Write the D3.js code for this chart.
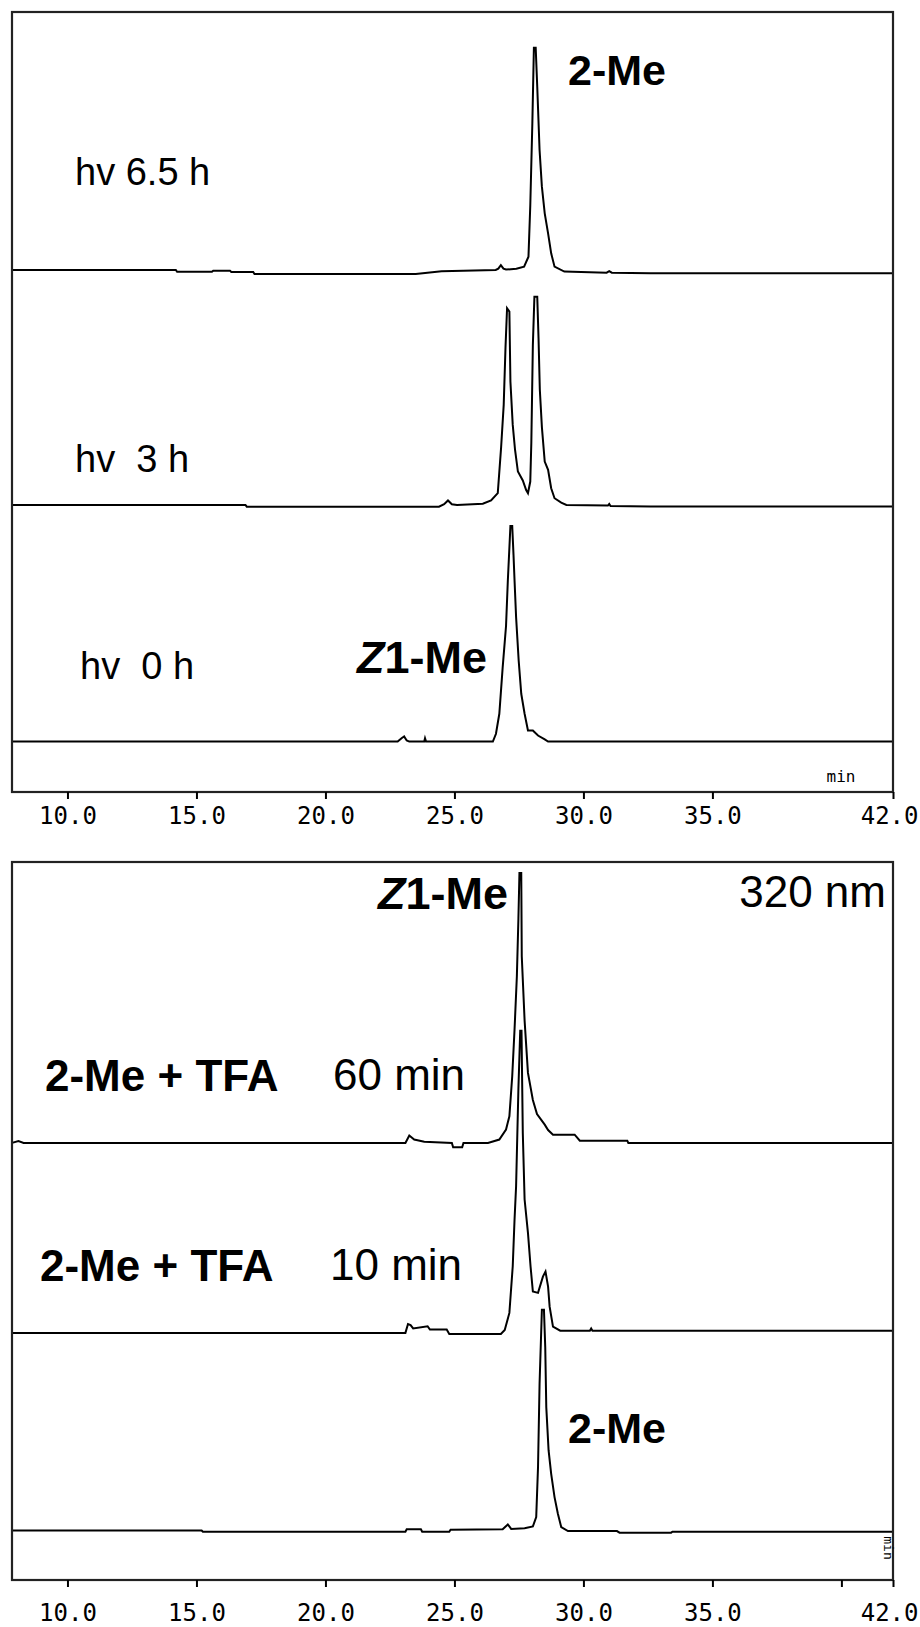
<!DOCTYPE html>
<html>
<head>
<meta charset="utf-8">
<script src="https://cdn.jsdelivr.net/npm/d3@7"></script>
<style>
  body { margin: 0; background: #fff; }
  svg text { font-family: "Liberation Sans", Arial, sans-serif; fill: #000; }
</style>
</head>
<body>
<svg id="chart"></svg>
<script>
// retention time ticks (min)
const tickValuesTop = [10, 15, 20, 25, 30, 35, 42];
const tickValuesBottom = [10, 15, 20, 25, 30, 35, 40, 42];
const tickLabels = ["10.0", "15.0", "20.0", "25.0", "30.0", "35.0", "42.0"];
const labelledTicks = [10, 15, 20, 25, 30, 35, 42];

// top panel: irradiation series, [time, signal] (signal relative to own baseline)
const hv65 = [[7.85,0],[14.2,0],[14.25,-0.8],[15.6,-0.8],[15.65,-0.3],[16.3,-0.3],[16.35,-0.9],[17.2,-0.9],[17.25,-1.8],[23.5,-1.8],[24.5,-0.6],[26.6,0],[26.7,0.6],[26.8,2.2],[26.9,0.6],[27.0,0.2],[27.4,0.6],[27.7,1.5],[27.87,6],[27.94,29],[28.02,66],[28.08,100],[28.15,100],[28.21,82.5],[28.3,54],[28.39,37.5],[28.5,25.5],[28.63,16.5],[28.75,7.5],[28.88,1.5],[29.26,-0.7],[30.9,-1.2],[31.0,-0.5],[31.1,-1.2],[32.6,-1.5],[42,-1.5]];
const hv3 = [[7.85,0],[16.9,0],[16.95,-0.8],[24.4,-0.8],[24.6,0.3],[24.75,2],[24.9,0.3],[25.1,0],[26.1,0.5],[26.42,2],[26.68,5.3],[26.81,26],[26.91,45],[26.98,71],[27.04,88.5],[27.13,87],[27.17,55.5],[27.26,36],[27.35,24.7],[27.46,15],[27.65,11],[27.78,6.7],[27.85,5.3],[27.94,10.5],[27.98,27.8],[28.04,72],[28.1,93.7],[28.21,93.7],[28.26,75],[28.31,51.8],[28.39,35],[28.5,19.5],[28.63,15.8],[28.75,7.5],[28.88,3],[29.14,1],[29.34,0],[30.95,-0.3],[31.0,0.4],[31.05,-0.5],[32.6,-0.7],[42,-0.7]];
const hv0 = [[7.85,0],[22.8,0],[22.95,1.5],[23.05,2.3],[23.15,0.5],[23.25,0],[23.83,0],[23.86,1.5],[23.9,0],[26.49,0],[26.61,3.5],[26.74,12.5],[26.87,33.4],[27.0,52],[27.07,72.5],[27.17,97],[27.24,97],[27.29,84],[27.33,72.5],[27.39,56],[27.49,36.5],[27.59,21.5],[27.72,12.5],[27.85,5],[28.04,5],[28.24,2.7],[28.5,1],[28.63,0],[42,0]];
const topSeries = [hv65, hv3, hv0];
const topOffsets = [234.9, 129.2, 22.7];

// bottom panel: acid treatment series
const tfa60 = [[7.85,0],[8.1,0.8],[8.3,0],[23.1,0],[23.25,3.3],[23.44,1.5],[23.83,0.5],[24.9,0],[24.95,-2],[25.3,-2],[25.35,0],[26.3,0],[26.74,1.5],[27.0,6],[27.13,12],[27.24,30],[27.33,51],[27.42,75],[27.48,101],[27.52,121.4],[27.59,121.4],[27.61,84],[27.72,55],[27.85,31.5],[28.04,19.3],[28.2,13],[28.5,8.2],[28.63,5.8],[28.82,3.7],[29.66,3.7],[29.86,1],[31.7,1],[31.74,0],[42,0]];
const tfa10 = [[7.85,0],[23.1,0],[23.2,4],[23.3,3.5],[23.4,2],[23.96,3],[24.05,1.5],[24.7,1.5],[24.8,-0.5],[26.8,-0.5],[26.95,1.3],[27.13,9],[27.26,30],[27.33,51],[27.39,66],[27.48,110],[27.55,136],[27.6,136],[27.65,90],[27.72,60],[27.85,45],[27.95,30],[28.04,18.6],[28.24,18],[28.43,25.3],[28.53,27.6],[28.63,20.8],[28.69,11.8],[28.82,2.8],[29.1,1],[30.25,1],[30.3,2],[30.35,1],[42,1]];
const me2 = [[7.85,0],[15.2,0],[15.25,-0.6],[23.1,-0.6],[23.15,0.5],[23.7,0.5],[23.75,-0.6],[24.8,-0.6],[24.85,0.3],[26.87,0.5],[27.07,2.7],[27.2,0.7],[27.72,1],[28.04,1.8],[28.17,6],[28.24,28.5],[28.3,66],[28.39,99.3],[28.47,99.3],[28.52,82.5],[28.56,55.5],[28.65,36],[28.75,25.5],[28.88,15],[29.01,7.5],[29.14,1.5],[29.4,-0.3],[31.3,-0.3],[31.4,-1],[33.4,-1],[33.45,-0.6],[42,-0.6]];
const bottomSeries = [tfa60, tfa10, me2];
const bottomOffsets = [196.7, 111.2, 22.3];

const W = 920, H = 1627;
const svg = d3.select("#chart").attr("width", W).attr("height", H);

const x = d3.scaleLinear().domain([7.85, 42]).range([12, 893]);
const yTop = d3.scaleLinear().domain([0, 351]).range([792, 12]);
const yBot = d3.scaleLinear().domain([0, 323.1]).range([1580, 862]);

function panel(y, series, offsets, ticks, pad) {
  const g = svg.append("g");
  // traces
  series.forEach(function (s, i) {
    const line = d3.line()
      .x(d => x(d[0]))
      .y(d => y(d[1] + offsets[i]));
    g.append("path")
      .datum(s)
      .attr("d", line)
      .attr("fill", "none")
      .attr("stroke", "#000")
      .attr("stroke-width", 2);
  });
  // frame
  const [d0, d1] = x.domain();
  const [y0, y1] = y.domain();
  g.append("rect")
    .attr("x", x(d0)).attr("y", y(y1))
    .attr("width", x(d1) - x(d0)).attr("height", y(y0) - y(y1))
    .attr("fill", "none").attr("stroke", "#222").attr("stroke-width", 2.2);
  // axis
  const axis = g.append("g")
    .attr("transform", "translate(0," + y(0) + ")")
    .call(d3.axisBottom(x)
      .tickValues(ticks)
      .tickSize(7)
      .tickPadding(pad)
      .tickFormat(function (d) {
        const k = labelledTicks.indexOf(d);
        return k < 0 ? "" : tickLabels[k];
      }));
  axis.select(".domain").remove();
  axis.selectAll("line").attr("stroke", "#000").attr("stroke-width", 2);
  axis.selectAll("text")
    .style("font-family", "'DejaVu Sans Mono', monospace")
    .style("font-size", "24px")
    .attr("fill", "#222");
  // last label kept inside the page
  axis.selectAll(".tick").filter(d => d === d1).select("text")
    .attr("text-anchor", "end")
    .attr("x", W - 2 - x(d1));
  return g;
}

const gTop = panel(yTop, topSeries, topOffsets, tickValuesTop, 8);
const gBot = panel(yBot, bottomSeries, bottomOffsets, tickValuesBottom, 17);

function label(g, txt, px, py, size, weight, anchor) {
  return g.append("text")
    .attr("x", px).attr("y", py)
    .attr("text-anchor", anchor || "start")
    .style("font-size", size + "px")
    .style("font-weight", weight || "normal")
    .style("white-space", "pre")
    .text(txt);
}

// top panel labels
label(gTop, "2-Me", 568, 85, 43, "bold");
label(gTop, "hv 6.5 h", 75, 185, 38);
label(gTop, "hv  3 h", 75, 472, 38);
label(gTop, "hv  0 h", 80, 679, 38);
const z1 = gTop.append("text").attr("x", 487).attr("y", 673)
  .attr("text-anchor", "end").style("font-size", "45px").style("font-weight", "bold");
z1.append("tspan").style("font-style", "italic").text("Z");
z1.append("tspan").text("1-Me");
gTop.append("text").attr("x", 841).attr("y", 782).attr("text-anchor", "middle")
  .style("font-family", "'DejaVu Sans Mono', monospace").style("font-size", "16px").text("min");

// bottom panel labels
const z2 = gBot.append("text").attr("x", 508).attr("y", 909)
  .attr("text-anchor", "end").style("font-size", "45px").style("font-weight", "bold");
z2.append("tspan").style("font-style", "italic").text("Z");
z2.append("tspan").text("1-Me");
label(gBot, "320 nm", 886, 907, 44, "normal", "end");
label(gBot, "2-Me + TFA", 45, 1091, 44, "bold");
label(gBot, "60 min", 333, 1090, 44);
label(gBot, "2-Me + TFA", 40, 1281, 44, "bold");
label(gBot, "10 min", 330, 1280, 44);
label(gBot, "2-Me", 568, 1443, 43, "bold");
gBot.append("text").attr("transform", "translate(884,1548) rotate(90)").attr("text-anchor", "middle")
  .style("font-family", "'DejaVu Sans Mono', monospace").style("font-size", "13px").text("min");
</script>
</body>
</html>
